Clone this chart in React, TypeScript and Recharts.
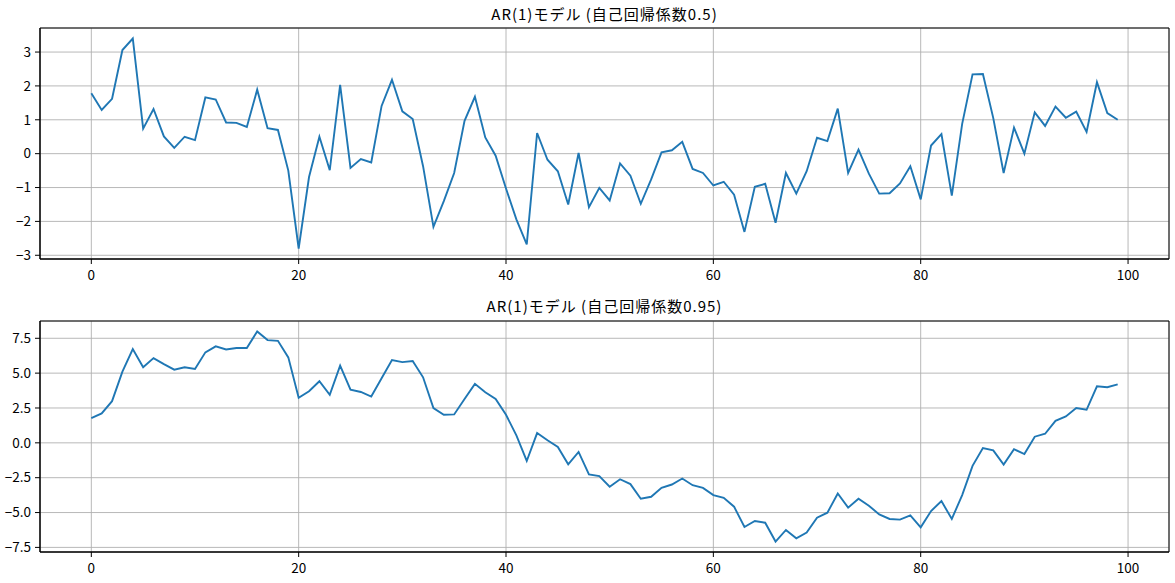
import { CartesianGrid, Line, LineChart, ReferenceArea, XAxis, YAxis } from "recharts";

const steps = Array.from({ length: 100 }, (_, i) => i);

const ar05 = [
  1.78, 1.29, 1.62, 3.06, 3.4, 0.74, 1.32, 0.51, 0.17, 0.5,
  0.4, 1.66, 1.6, 0.92, 0.91, 0.79, 1.89, 0.75, 0.7, -0.5,
  -2.8, -0.69, 0.5, -0.49, 2.03, -0.42, -0.16, -0.26, 1.41, 2.18,
  1.25, 1.02, -0.37, -2.16, -1.4, -0.57, 0.97, 1.68, 0.48, -0.06,
  -1.03, -1.94, -2.68, 0.61, -0.18, -0.52, -1.5, 0.02, -1.58, -1.01,
  -1.38, -0.29, -0.65, -1.48, -0.76, 0.04, 0.1, 0.35, -0.45, -0.57,
  -0.94, -0.83, -1.21, -2.31, -0.98, -0.89, -2.04, -0.57, -1.18, -0.52,
  0.47, 0.37, 1.33, -0.57, 0.12, -0.59, -1.18, -1.17, -0.88, -0.37,
  -1.35, 0.24, 0.58, -1.24, 0.88, 2.34, 2.35, 1.05, -0.57, 0.77,
  0.0, 1.22, 0.82, 1.39, 1.06, 1.24, 0.64, 2.11, 1.2, 1.0,
];

const ar095 = [
  1.78, 2.11, 2.99, 5.11, 6.73, 5.42, 6.08, 5.65, 5.25, 5.42,
  5.3, 6.49, 6.92, 6.7, 6.8, 6.8, 7.99, 7.37, 7.32, 6.13,
  3.23, 3.7, 4.42, 3.44, 5.54, 3.82, 3.65, 3.32, 4.63, 5.94,
  5.79, 5.87, 4.7, 2.49, 2.01, 2.04, 3.15, 4.23, 3.63, 3.15,
  2.01, 0.54, -1.3, 0.7, 0.18, -0.3, -1.54, -0.65, -2.27, -2.39,
  -3.15, -2.61, -2.96, -4.01, -3.87, -3.23, -2.99, -2.56, -3.04, -3.23,
  -3.75, -3.94, -4.58, -6.04, -5.61, -5.73, -7.08, -6.25, -6.85, -6.44,
  -5.37, -5.01, -3.63, -4.65, -4.01, -4.51, -5.13, -5.46, -5.51, -5.2,
  -6.06, -4.89, -4.18, -5.46, -3.75, -1.65, -0.37, -0.54, -1.56, -0.46,
  -0.8, 0.44, 0.65, 1.58, 1.89, 2.49, 2.37, 4.06, 3.99, 4.2,
];

const xTicks = [0, 20, 40, 60, 80, 100];
const yTicksTop = [-3, -2, -1, 0, 1, 2, 3];
const yTicksBottom = [-7.5, -5, -2.5, 0, 2.5, 5, 7.5];

const titleTop = "AR(1)モデル (自己回帰係数0.5)";
const titleBottom = "AR(1)モデル (自己回帰係数0.95)";

const X_DOMAIN: [number, number] = [-4.95, 103.95];
const FONT = '"Noto Sans CJK JP", "Noto Sans", sans-serif';
const tickStyle = { fontSize: 13.5, fill: "#000", fontFamily: FONT };

type PanelProps = {
  title: string;
  values: number[];
  yDomain: [number, number];
  yTicks: number[];
  top: number;
  height: number;
  margin: { top: number; right: number; bottom: number; left: number };
  titleTop: number;
  fmt?: (v: number) => string;
};

function Panel({ title, values, yDomain, yTicks, top, height, margin, titleTop, fmt }: PanelProps) {
  const data = steps.map((x, i) => ({ x, y: values[i] }));
  return (
    <div style={{ position: "absolute", left: 0, top, width: 1175, height }}>
      <div
        style={{
          position: "absolute",
          left: 40,
          width: 1129,
          top: titleTop,
          lineHeight: "20px",
          fontSize: 15,
          letterSpacing: 1,
          textAlign: "center",
          fontFamily: FONT,
          color: "#000",
        }}
      >
        {title}
      </div>
      <LineChart width={1175} height={height} data={data} margin={margin}>
        <CartesianGrid stroke="#b0b0b0" strokeWidth={0.9} />
        <XAxis
          dataKey="x"
          type="number"
          domain={X_DOMAIN}
          ticks={xTicks}
          allowDataOverflow
          height={25}
          tickSize={5}
          tickMargin={6}
          tick={tickStyle}
          tickLine={{ stroke: "#000" }}
          axisLine={{ stroke: "#000" }}
        />
        <YAxis
          type="number"
          domain={yDomain}
          ticks={yTicks}
          allowDataOverflow
          width={40}
          tickSize={5}
          tickMargin={4}
          tick={tickStyle}
          tickFormatter={fmt}
          tickLine={{ stroke: "#000" }}
          axisLine={{ stroke: "#000" }}
        />
        <Line
          type="linear"
          dataKey="y"
          stroke="#1f77b4"
          strokeWidth={1.9}
          dot={false}
          isAnimationActive={false}
        />
        {/* frame on all four sides, like matplotlib spines */}
        <ReferenceArea
          x1={X_DOMAIN[0]}
          x2={X_DOMAIN[1]}
          y1={yDomain[0]}
          y2={yDomain[1]}
          fill="none"
          fillOpacity={0}
          stroke="#000"
          strokeWidth={1}
          ifOverflow="visible"
        />
      </LineChart>
    </div>
  );
}

export default function App() {
  return (
    <div style={{ position: "absolute", left: 0, top: 0, width: 1175, height: 583, background: "#fff" }}>
      <Panel
        title={titleTop}
        values={ar05}
        yDomain={[-3.11, 3.71]}
        yTicks={yTicksTop}
        top={0}
        height={291}
        margin={{ top: 28, right: 6, bottom: 7, left: 0 }}
        titleTop={4}
        fmt={(v) => (v < 0 ? `\u2212${Math.abs(v)}` : `${v}`)}
      />
      <Panel
        title={titleBottom}
        values={ar095}
        yDomain={[-7.83, 8.74]}
        yTicks={yTicksBottom}
        top={291}
        height={292}
        margin={{ top: 30, right: 6, bottom: 6, left: 0 }}
        titleTop={5}
        fmt={(v) => (v < 0 ? `\u2212${Math.abs(v).toFixed(1)}` : v.toFixed(1))}
      />
    </div>
  );
}
